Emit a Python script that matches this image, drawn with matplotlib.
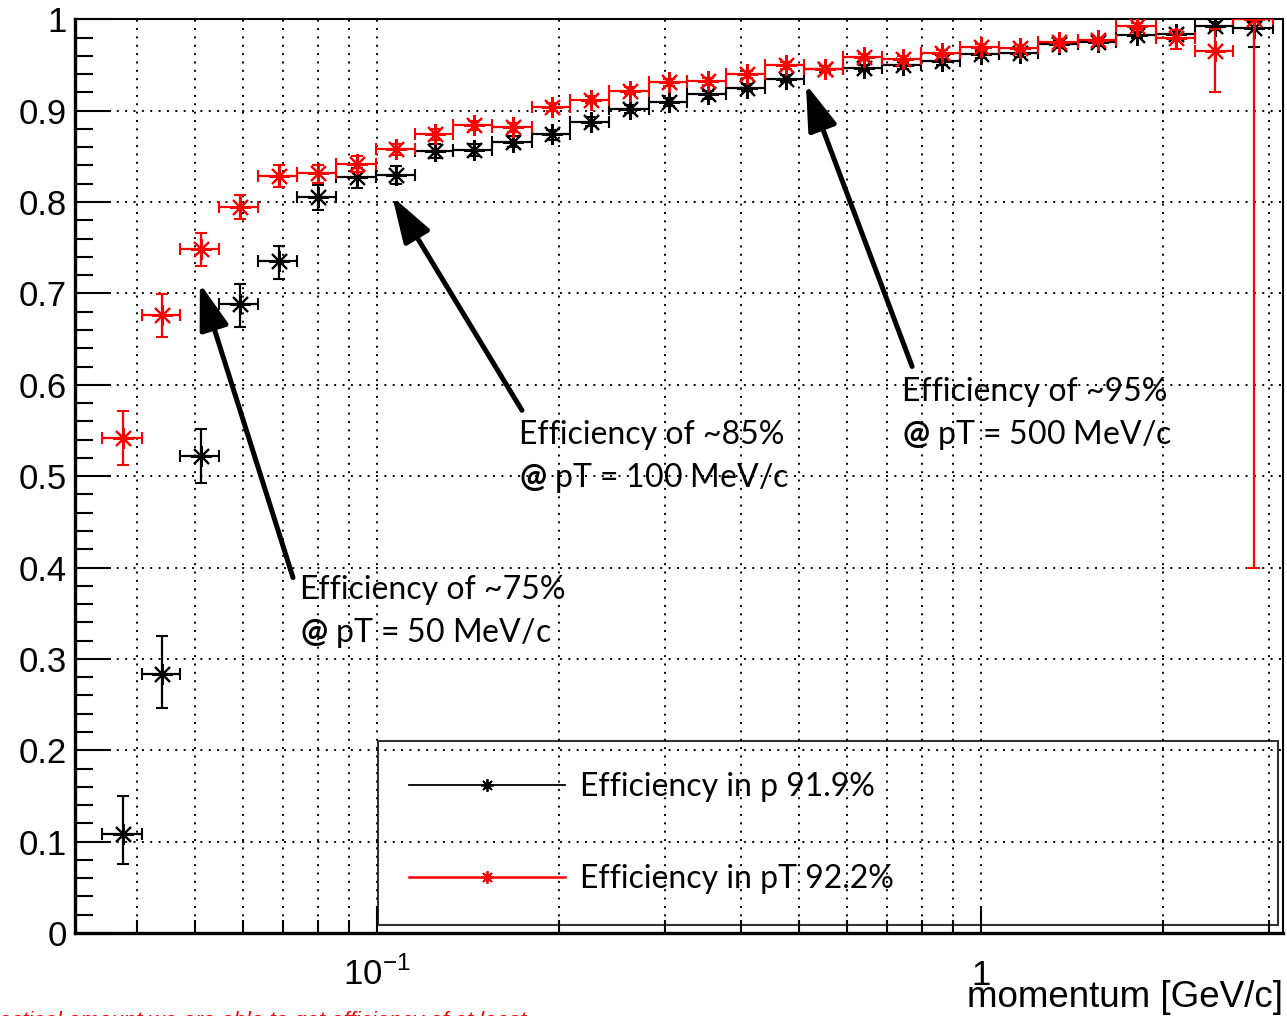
import numpy as np
import matplotlib
matplotlib.use('Agg')
import matplotlib.pyplot as plt
from matplotlib.lines import Line2D
from matplotlib.ticker import MultipleLocator, LogLocator, FuncFormatter, NullFormatter

plt.rcParams['font.family'] = ['Liberation Sans', 'DejaVu Sans']
plt.rcParams['mathtext.fontset'] = 'custom'
plt.rcParams['mathtext.rm'] = 'Liberation Sans'
plt.rcParams['mathtext.bf'] = 'Lato:bold'

# log-spaced momentum bins [GeV/c]
bin_edges = [0.03511, 0.04075, 0.04727, 0.05485, 0.06364, 0.07384, 0.08567, 0.09943,
             0.1154, 0.1338, 0.1553, 0.1803, 0.2091, 0.2426, 0.2816, 0.3266,
             0.3790, 0.4397, 0.5102, 0.5920, 0.6869, 0.7970, 0.9247, 1.073,
             1.245, 1.445, 1.676, 1.945, 2.257, 2.618, 3.039]

# efficiency vs p (black)
eff_p = [0.108, 0.284, 0.522, 0.688, 0.735, 0.805, 0.827, 0.830, 0.856, 0.857,
         0.866, 0.874, 0.888, 0.902, 0.910, 0.918, 0.925, 0.935, 0.946, 0.947,
         0.950, 0.954, 0.962, 0.963, 0.973, 0.975, 0.983, 0.984, 0.993, 0.990]
eff_p_lo = [0.033, 0.038, 0.030, 0.025, 0.019, 0.014, 0.012, 0.010, 0.008, 0.007,
            0.006, 0.006, 0.005, 0.005, 0.005, 0.005, 0.004, 0.004, 0.004, 0.004,
            0.004, 0.004, 0.004, 0.004, 0.004, 0.004, 0.004, 0.005, 0.005, 0.020]
eff_p_hi = [0.042, 0.041, 0.030, 0.022, 0.017, 0.014, 0.010, 0.009, 0.007, 0.007,
            0.006, 0.005, 0.005, 0.004, 0.004, 0.004, 0.004, 0.004, 0.003, 0.003,
            0.003, 0.003, 0.003, 0.003, 0.003, 0.003, 0.003, 0.004, 0.004, 0.008]

# efficiency vs pT (red)
eff_pt = [0.542, 0.676, 0.749, 0.795, 0.829, 0.832, 0.842, 0.858, 0.874, 0.884,
          0.882, 0.904, 0.912, 0.922, 0.931, 0.932, 0.940, 0.950, 0.946, 0.959,
          0.957, 0.963, 0.970, 0.969, 0.975, 0.977, 0.993, 0.979, 0.965, 1.000]
eff_pt_lo = [0.030, 0.024, 0.019, 0.014, 0.012, 0.011, 0.009, 0.006, 0.006, 0.005,
             0.005, 0.004, 0.004, 0.004, 0.004, 0.004, 0.004, 0.004, 0.003, 0.003,
             0.003, 0.003, 0.003, 0.003, 0.003, 0.003, 0.004, 0.012, 0.045, 0.600]
eff_pt_hi = [0.029, 0.023, 0.017, 0.013, 0.011, 0.009, 0.008, 0.006, 0.006, 0.005,
             0.005, 0.004, 0.004, 0.004, 0.004, 0.004, 0.003, 0.003, 0.003, 0.003,
             0.003, 0.003, 0.003, 0.003, 0.003, 0.003, 0.003, 0.009, 0.024, 0.000]

label_p = 'Efficiency in p 91.9%'
label_pt = 'Efficiency in pT 92.2%'

# (arrow tip, arrow tail, text x, y of line 1, y of line 2, line 1, line 2)
notes = [
    ((0.0509, 0.711), (0.0726, 0.389), 0.0746, 0.375, 0.328, 'Efficiency of ~75%', ' pT = 50 MeV/c'),
    ((0.106, 0.806), (0.1738, 0.572), 0.1718, 0.545, 0.498, 'Efficiency of ~85%', ' pT = 100 MeV/c'),
    ((0.513, 0.929), (0.769, 0.620), 0.740, 0.592, 0.545, 'Efficiency of ~95%', ' pT = 500 MeV/c'),
]

caption = 'practical amount we are able to get efficiency of at least'

STAR = (8, 2, 0)


def main():
    edges = np.array(bin_edges)
    lo, hi = edges[:-1], edges[1:]
    mid = 0.5 * (lo + hi)
    xerr = [mid - lo, hi - mid]

    fig = plt.figure(figsize=(12.87, 10.16), dpi=100)
    ax = fig.add_axes([75 / 1287, 83 / 1016, 1208 / 1287, 913.7 / 1016])
    ax.set_xscale('log')
    ax.set_xlim(10 ** -1.5, 10 ** 0.5)
    ax.set_ylim(0, 1)

    style = dict(ls='none', marker=STAR, ms=15, mew=1.5, elinewidth=1.6,
                 capsize=4, capthick=1.6)
    ax.errorbar(mid, eff_p, xerr=xerr, yerr=[eff_p_lo, eff_p_hi], color='black',
                zorder=3, **style)
    ax.errorbar(mid, eff_pt, xerr=xerr, yerr=[eff_pt_lo, eff_pt_hi], color='red',
                zorder=4, **style)

    # axes, ticks and grid in ROOT style
    ax.yaxis.set_major_locator(MultipleLocator(0.1))
    ax.yaxis.set_minor_locator(MultipleLocator(0.02))
    ax.yaxis.set_major_formatter(FuncFormatter(lambda v, pos: '%g' % round(v, 2)))
    ax.xaxis.set_major_locator(LogLocator(base=10))
    ax.xaxis.set_minor_locator(LogLocator(base=10, subs=np.arange(2, 10)))
    ax.xaxis.set_minor_formatter(NullFormatter())
    ax.tick_params(axis='y', which='major', direction='in', length=26, width=1.5,
                   labelsize=25, pad=6, right=False)
    ax.tick_params(axis='y', which='minor', direction='in', length=13, width=1.5, right=False)
    ax.tick_params(axis='x', which='major', direction='in', length=19.5, width=1.5,
                   labelbottom=False, top=False)
    ax.tick_params(axis='x', which='minor', direction='in', length=9.7, width=1.5, top=False)
    dots = (0, (1, 3.3))
    ax.grid(True, which='major', axis='y', color='black', lw=1.4, linestyle=dots)
    ax.grid(True, which='both', axis='x', color='black', lw=1.4, linestyle=dots)
    ax.set_axisbelow(True)
    for side in ['left', 'bottom']:
        ax.spines[side].set_linewidth(2.4)
    for side in ['top', 'right']:
        ax.spines[side].set_linewidth(1.5)

    xform = ax.get_xaxis_transform()
    ax.text(0.1, -0.057, r'$10^{-1}$', transform=xform, ha='center', va='baseline', fontsize=25)
    ax.text(1.0, -0.057, '1', transform=xform, ha='center', va='baseline', fontsize=25)
    ax.text(1.0, -0.081, 'momentum [GeV/c]', transform=ax.transAxes, ha='right',
            va='baseline', fontsize=26.5)

    # annotations
    for tip, tail, tx, ty1, ty2, line1, line2 in notes:
        ax.annotate('', xy=tip, xytext=tail,
                    arrowprops=dict(arrowstyle='-|>,head_length=1.4,head_width=0.45',
                                    mutation_scale=20, lw=3.6, color='black',
                                    shrinkA=0, shrinkB=0), zorder=5)
        ax.text(tx, ty1, line1, family='Lato', fontsize=23, va='center', ha='left', zorder=6)
        ax.text(tx, ty2, r'$\mathbf{@}$' + line2, family='Lato', fontsize=23,
                va='center', ha='left', zorder=6)

    handles = [Line2D([], [], color='black', lw=1.3, marker=STAR, ms=9, mew=1.3),
               Line2D([], [], color='red', lw=1.8, marker=STAR, ms=9, mew=1.3)]
    leg = ax.legend(handles, [label_p, label_pt], loc='upper left',
                    bbox_to_anchor=(0.2508, 0.011, 0.745, 0.199), mode='expand',
                    borderaxespad=0, fancybox=False, frameon=True, handlelength=4.9,
                    handletextpad=0.47, borderpad=0.97, labelspacing=1.94,
                    prop={'family': 'Lato', 'size': 23})
    leg.get_frame().set_edgecolor('black')
    leg.get_frame().set_facecolor('none')
    leg.get_frame().set_linewidth(1.5)

    # caption of the slide, cut off by the bottom edge
    fig.text(-20 / 1287, -11 / 1016, caption, color='red', style='italic', fontsize=16,
             va='baseline', ha='left')

    fig.savefig('out.png', dpi=100)


if __name__ == '__main__':
    main()
